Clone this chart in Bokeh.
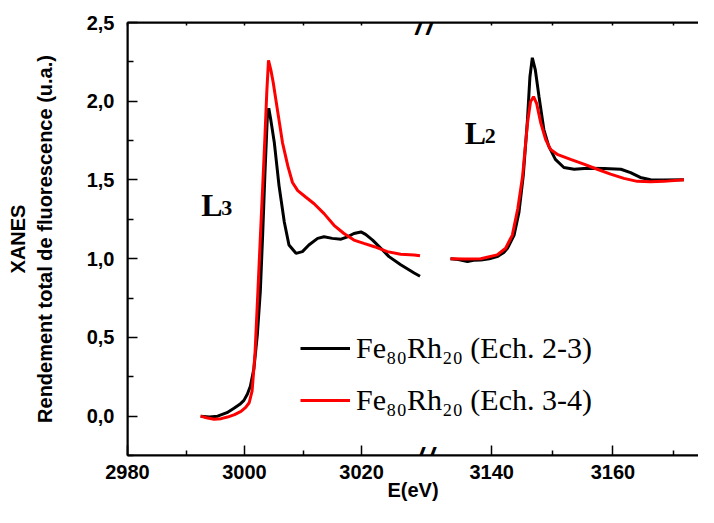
from bokeh.plotting import figure
from bokeh.models import (Range1d, LinearAxis, FixedTicker, Label, Legend,
                          LegendItem, BoxAnnotation)
from bokeh.embed import file_html
from bokeh.resources import INLINE

# ---------------- data ----------------
# L3 edge, Fe80Rh20 (Ech. 2-3)  -- black
e_l3_black = [2992.5, 2994.0, 2995.4, 2997.0, 2998.2, 2999.2, 2999.9, 3000.5,
              3001.0, 3001.6, 3002.2, 3002.7, 3003.1, 3003.5, 3003.9, 3004.15,
              3004.5, 3005.1, 3005.9, 3006.8, 3007.6, 3008.8, 3009.9, 3011.0,
              3012.5, 3013.6, 3015.0, 3016.5, 3017.6, 3018.7, 3019.9, 3020.7,
              3021.9, 3023.3, 3024.7, 3026.7, 3029.0, 3030.0]
y_l3_black = [0.000, -0.005, 0.000, 0.022, 0.050, 0.075, 0.100, 0.140,
              0.190, 0.300, 0.520, 0.790, 1.150, 1.550, 1.900, 1.955,
              1.880, 1.736, 1.464, 1.233, 1.087, 1.034, 1.045, 1.087,
              1.129, 1.139, 1.129, 1.124, 1.139, 1.160, 1.170, 1.154,
              1.118, 1.066, 1.013, 0.961, 0.909, 0.888]

# L3 edge, Fe80Rh20 (Ech. 3-4)  -- red
e_l3_red = [2992.5, 2993.5, 2994.8, 2996.0, 2997.1, 2998.3, 2999.4, 3000.2,
            3000.8, 3001.3, 3001.8, 3002.3, 3002.7, 3003.1, 3003.5, 3003.8,
            3004.1, 3004.5, 3004.9, 3005.4, 3005.9, 3006.5, 3007.4, 3008.2,
            3009.1, 3010.5, 3011.9, 3013.6, 3015.3, 3017.0, 3018.7, 3020.4,
            3022.2, 3024.4, 3026.7, 3029.0, 3030.0]
y_l3_red = [0.000, -0.010, -0.020, -0.016, -0.006, 0.010, 0.030, 0.055,
            0.085, 0.160, 0.400, 0.800, 1.130, 1.450, 1.780, 2.050,
            2.260, 2.200, 2.120, 2.000, 1.880, 1.736, 1.589, 1.484,
            1.432, 1.390, 1.349, 1.286, 1.212, 1.160, 1.118, 1.097,
            1.076, 1.045, 1.028, 1.024, 1.019]

# L2 edge -- black
e_l2_black = [3133.2, 3134.5, 3136.0, 3137.0, 3138.2, 3139.6, 3140.9, 3142.0,
              3142.6, 3143.7, 3144.5, 3145.2, 3145.9, 3146.3, 3146.7, 3147.2,
              3147.8, 3148.6, 3149.4, 3150.5, 3151.9, 3153.6, 3155.8, 3158.5,
              3161.3, 3162.9, 3164.5, 3166.2, 3168.4, 3171.7]
y_l2_black = [0.999, 0.995, 0.982, 0.990, 0.992, 1.000, 1.013, 1.040,
              1.066, 1.150, 1.296, 1.526, 1.883, 2.154, 2.276, 2.197,
              2.029, 1.820, 1.715, 1.631, 1.579, 1.568, 1.575, 1.572,
              1.568, 1.547, 1.516, 1.501, 1.499, 1.501]

# L2 edge -- red
e_l2_red = [3133.2, 3135.5, 3138.2, 3140.9, 3142.3, 3143.4, 3144.3, 3145.1,
            3145.9, 3146.4, 3146.9, 3147.4, 3148.1, 3148.9, 3149.7, 3150.8,
            3153.0, 3155.2, 3157.4, 3159.6, 3161.8, 3164.0, 3166.2, 3168.4,
            3171.7]
y_l2_red = [0.999, 0.998, 1.000, 1.024, 1.066, 1.150, 1.317, 1.526,
            1.861, 1.997, 2.029, 1.987, 1.861, 1.757, 1.694, 1.663,
            1.631, 1.600, 1.568, 1.537, 1.510, 1.491, 1.489, 1.491,
            1.501]

series_labels = ["Fe\u2088\u2080Rh\u2082\u2080 (Ech. 2-3)",
                 "Fe\u2088\u2080Rh\u2082\u2080 (Ech. 3-4)"]
series_colors = ["#000000", "#ff0000"]

# axis segments (broken x axis)
x_left_seg = (2980, 3030.85)
x_right_seg = (3129, 3174.1)
break_frac = 0.521          # share of the frame width used by the left segment
y_lim = (-0.25, 2.5)

x_major_left = [2980, 3000, 3020]
x_minor_left = [2990, 3010]
x_major_right = [3140, 3160]
x_minor_right = [3150, 3170]
x_top_left = [2980, 2990, 3000, 3010, 3020]
x_top_right = [3140, 3150, 3160, 3170]
y_major = [0.0, 0.5, 1.0, 1.5, 2.0, 2.5]
y_major_labels = ["0,0", "0,5", "1,0", "1,5", "2,0", "2,5"]
y_minor = [-0.25, 0.25, 0.75, 1.25, 1.75, 2.25]

# ---------------- ranges ----------------
left_span = (x_left_seg[1] - x_left_seg[0]) / break_frac
x_range_left = Range1d(x_left_seg[0], x_left_seg[0] + left_span)
right_width = x_right_seg[1] - x_right_seg[0]
right_start = x_right_seg[0] - right_width * break_frac / (1 - break_frac)
x_range_right = Range1d(right_start, x_right_seg[1])


def right_to_left(e):
    """position of a right-segment energy on the main (left) x range"""
    f = (e - x_range_right.start) / (x_range_right.end - x_range_right.start)
    return x_range_left.start + f * (x_range_left.end - x_range_left.start)


FONT = "Liberation Sans"
SERIF = "Liberation Serif"

p = figure(width=698, height=507, x_range=x_range_left,
           y_range=Range1d(*y_lim), output_backend="svg",
           toolbar_location=None, x_axis_type=None, y_axis_type=None,
           min_border_left=127, min_border_right=0, min_border_top=22,
           min_border_bottom=52)
p.extra_x_ranges = {"right": x_range_right}
p.outline_line_color = None
p.background_fill_color = "white"
p.border_fill_color = "white"


def style_axis(ax, tick_in=10, minor_in=5):
    ax.axis_line_color = "black"
    ax.axis_line_width = 2
    ax.major_tick_line_color = "black"
    ax.major_tick_line_width = 1.5
    ax.minor_tick_line_color = "black"
    ax.minor_tick_line_width = 1.5
    ax.major_tick_in = tick_in
    ax.major_tick_out = 0
    ax.minor_tick_in = minor_in
    ax.minor_tick_out = 0
    ax.major_label_text_font = FONT
    ax.major_label_text_font_style = "bold"
    ax.major_label_text_font_size = "20px"
    ax.major_label_text_color = "black"
    ax.axis_label_text_font = FONT
    ax.axis_label_text_font_style = "bold"
    ax.axis_label_text_font_size = "20px"
    ax.axis_label_text_color = "black"


# bottom axis: both segments (right-segment ticks placed through the ranges)
r_major_pos = [right_to_left(e) for e in x_major_right]
r_minor_pos = [right_to_left(e) for e in x_minor_right]
x_overrides = {e: str(e) for e in x_major_left}
x_overrides.update({pos: str(e) for pos, e in zip(r_major_pos, x_major_right)})
xb = LinearAxis(ticker=FixedTicker(ticks=x_major_left + r_major_pos,
                                   minor_ticks=x_minor_left + r_minor_pos),
                major_label_overrides=x_overrides, axis_label="E(eV)")
style_axis(xb)
xb.major_label_standoff = 9
xb.axis_label_standoff = -3
p.add_layout(xb, "below")

# top axis: tiny ticks only
top_pos = x_top_left + [right_to_left(e) for e in x_top_right]
xt = LinearAxis(ticker=FixedTicker(ticks=[], minor_ticks=top_pos))
style_axis(xt, tick_in=0, minor_in=3)
xt.major_label_standoff = 0
p.add_layout(xt, "above")

# frame border (top / bottom / left); its right side lies beyond the canvas
p.add_layout(BoxAnnotation(left=x_range_left.start,
                           right=x_range_left.end + left_span,
                           bottom=y_lim[0], top=y_lim[1],
                           fill_color=None, fill_alpha=0,
                           line_color="black", line_width=2, line_alpha=1))

# left axis
y_ax = LinearAxis(ticker=FixedTicker(ticks=y_major, minor_ticks=y_minor),
                  axis_label="XANES\nRendement total de fluorescence (u.a.)",
                  major_label_overrides=dict(zip(y_major, y_major_labels)))
style_axis(y_ax, tick_in=10, minor_in=6)
y_ax.major_label_standoff = 13
y_ax.axis_label_standoff = 28
p.add_layout(y_ax, "left")

# ---------------- curves ----------------
r_b3 = p.line(e_l3_black, y_l3_black, line_color=series_colors[0],
              line_width=3)
r_r3 = p.line(e_l3_red, y_l3_red, line_color=series_colors[1], line_width=3)
r_b2 = p.line(e_l2_black, y_l2_black, line_color=series_colors[0],
              line_width=3, x_range_name="right")
r_r2 = p.line(e_l2_red, y_l2_red, line_color=series_colors[1], line_width=3,
              x_range_name="right")

# ---------------- edge labels ----------------
edge_labels = [("L", "3", 2992.6, 1.338, "default"),
               ("L", "2", 3135.55, 1.796, "right")]
for main, sub, ex, ey, rng in edge_labels:
    p.add_layout(Label(x=ex, y=ey, x_range_name=rng, text=main,
                       text_font=SERIF, text_font_style="bold",
                       text_font_size="32px", text_baseline="alphabetic",
                       text_align="left", text_color="black"))
    p.add_layout(Label(x=ex, y=ey, x_range_name=rng, text=sub, x_offset=20,
                       y_offset=-3, text_font=SERIF, text_font_style="bold",
                       text_font_size="22px", text_baseline="alphabetic",
                       text_align="left", text_color="black"))

# ---------------- axis break marks ----------------
for yb in y_lim:
    for dx in (-5.5, 5.5):
        p.add_layout(Label(x=x_left_seg[1], y=yb, text="/", x_offset=dx,
                           y_offset=-2, text_font=FONT,
                           text_font_style="bold italic",
                           text_font_size="28px", text_align="center",
                           text_baseline="middle", text_color="black"))

# ---------------- legend ----------------
legend = Legend(items=[LegendItem(label=series_labels[0], renderers=[r_b3]),
                       LegendItem(label=series_labels[1], renderers=[r_r3])],
                location=(173, 38), border_line_color=None,
                background_fill_alpha=0, padding=0, margin=0, spacing=18,
                glyph_width=50, glyph_height=20, label_standoff=6,
                label_text_font=SERIF, label_text_font_size="30px",
                label_text_color="black")
p.add_layout(legend)

open("out.html", "w").write(file_html(p, INLINE))
